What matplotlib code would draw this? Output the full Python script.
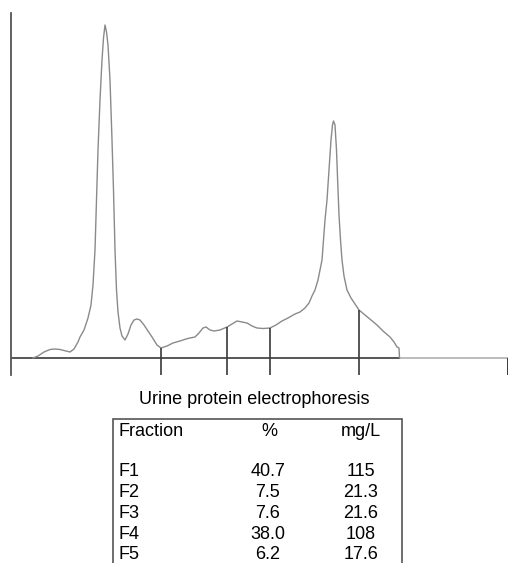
#!/usr/bin/env python3
"""Urine protein electrophoresis densitogram with fraction table."""
import matplotlib
matplotlib.use('Agg')
import matplotlib.pyplot as plt
from matplotlib.patches import Rectangle
import numpy as np

W, H, DPI = 511, 563, 100
TRACE, AXIS, TICK, LIGHT = '#8a8a8a', '#555555', '#3a3a3a', '#b0b0b0'

# densitometry trace (migration units, absorbance units)
pos = [22, 27, 33, 39, 44, 49, 55, 59, 63, 67, 69, 73, 77, 80, 82, 84, 85.5, 87, 89, 91,
       92.5, 94, 95.5, 97, 99, 101, 102.5, 104, 105.5, 107, 109, 111, 114, 117, 120, 123,
       126, 129, 133, 137, 141, 146, 150, 156, 162, 169, 175, 179, 184, 188, 192, 195,
       199, 203, 209, 216, 221, 226, 231, 236, 241, 246, 252, 259, 265, 271, 277, 284,
       289, 294, 298, 301, 304, 307, 309, 311, 312.5, 314, 316, 318, 320, 321.5, 322.5,
       324, 325.5, 327, 328, 329.5, 331, 333, 336, 340, 344, 348, 354, 360, 366, 372,
       379, 383, 386, 388, 388.5]
absorb = [0, 2, 6, 8.5, 9, 8.5, 7, 6, 9, 16, 21, 28, 40, 53, 73, 108, 158, 208, 258, 298,
          320, 333, 326, 313, 278, 218, 168, 108, 68, 46, 30, 22, 18, 24, 33, 38,
          39, 38, 33, 27, 21, 13, 10, 12, 15, 17, 19, 20, 21, 25, 30, 31,
          28, 27, 28, 31, 34, 37, 36, 35, 32, 30, 29.5, 30, 33, 37, 40, 44,
          46, 50, 55, 62, 68, 78, 88, 98, 118, 138, 158, 188, 218, 233, 237,
          233, 208, 168, 143, 118, 98, 82, 68, 60, 54, 48, 43, 38, 33, 27,
          21, 16, 11, 10, 0]
boundaries = [150, 216, 259, 348]
x_end = 497

title = 'Urine protein electrophoresis'
header = ['Fraction', '%', 'mg/L']
fractions = ['F1', 'F2', 'F3', 'F4', 'F5']
percent = ['40.7', '7.5', '7.6', '38.0', '6.2']
mg_per_l = ['115', '21.3', '21.6', '108', '17.6']

plt.rcParams['font.family'] = ['Liberation Sans', 'DejaVu Sans']
FS = 13


def fx(px):
    return px / W


def fy(py):
    return 1 - py / H


fig = plt.figure(figsize=(W / DPI, H / DPI), dpi=DPI)
fig.patch.set_facecolor('white')

ax = fig.add_axes([fx(11), fy(375), fx(508) - fx(11), fy(13) - fy(375)])
ax.set_xlim(0, x_end)
ax.set_ylim(-17, 345)
for side in ('top', 'right', 'bottom'):
    ax.spines[side].set_visible(False)
ax.spines['left'].set_color(AXIS)
ax.spines['left'].set_linewidth(1.3)
ax.set_xticks([])
ax.set_yticks([])

# baseline: dark under the trace, lighter beyond it
ax.plot([0, pos[-1]], [0, 0], color=TICK, lw=1.2, solid_capstyle='butt')
ax.plot([pos[-1], x_end], [0, 0], color=LIGHT, lw=1.2, solid_capstyle='butt')
ax.vlines(x_end, -17, 0, color=TICK, lw=1.4)

ax.plot(pos, absorb, color=TRACE, lw=1.0)

tops = np.interp(boundaries, pos, absorb)
ax.vlines(boundaries, -17, tops, color=TICK, lw=1.2)

fig.text(fx(254), fy(400), title, ha='center', va='center', fontsize=FS)

fig.patches.append(Rectangle((fx(113), fy(575)), fx(402) - fx(113), fy(419) - fy(575),
                             transform=fig.transFigure, fill=False,
                             edgecolor='#555555', lw=1.2))

fig.text(fx(118), fy(432), header[0], ha='left', va='center', fontsize=FS)
fig.text(fx(269), fy(432), header[1], ha='center', va='center', fontsize=FS)
fig.text(fx(361), fy(432), header[2], ha='center', va='center', fontsize=FS)
for i, (f, p, m) in enumerate(zip(fractions, percent, mg_per_l)):
    y = 472 + i * 20.7
    fig.text(fx(118), fy(y), f, ha='left', va='center', fontsize=FS)
    fig.text(fx(268), fy(y), p, ha='center', va='center', fontsize=FS)
    fig.text(fx(361), fy(y), m, ha='center', va='center', fontsize=FS)

fig.savefig('out.png', dpi=DPI, facecolor='white')
